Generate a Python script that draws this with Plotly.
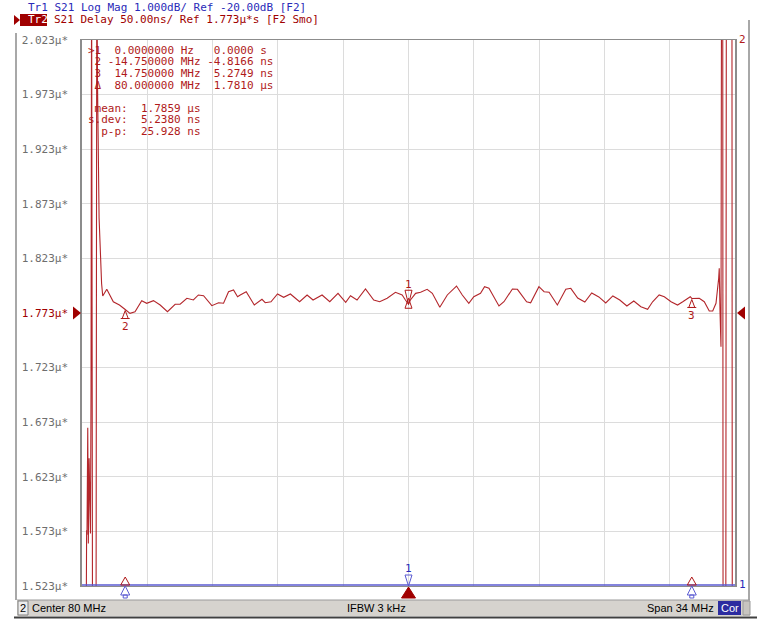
import plotly.graph_objects as go

# ---------------- data ----------------
# Tr2: S21 group delay (µs) vs frequency (MHz)
freq_mhz = [63.00, 63.20, 63.24, 63.26, 63.30, 63.33, 63.37, 63.41, 63.44, 63.47,
            63.50, 63.55, 63.73, 63.77, 63.81, 63.89, 63.96, 64.02,
            64.08, 64.29, 64.63, 64.95, 65.25, 65.50, 65.76, 66.11, 66.37, 66.72,
            67.07, 67.45, 67.85, 68.11, 68.46, 68.80, 69.06, 69.33, 69.76, 70.11,
            70.37, 70.63, 70.89, 71.10, 71.24, 71.55, 71.97, 72.37, 72.54, 72.84,
            73.18, 73.50, 73.85, 74.33, 74.72, 75.03, 75.50, 75.90, 76.33, 76.73,
            76.98, 77.32, 77.76, 78.19, 78.50, 78.89, 79.32, 79.67, 79.84, 80.00,
            80.10, 80.37, 80.63, 80.97, 81.24, 81.63, 82.02, 82.50, 82.80, 83.14,
            83.40, 83.75, 83.96, 84.19, 84.71, 84.97, 85.41, 85.67, 86.15, 86.36,
            86.79, 87.06, 87.32, 87.75, 88.19, 88.45, 88.81, 89.18, 89.54, 89.91,
            90.27, 90.64, 91.00, 91.37, 91.73, 92.10, 92.45, 92.71, 93.05, 93.32,
            93.67, 94.01, 94.28, 94.67, 94.75, 94.92, 95.14, 95.40, 95.66, 95.84,
            96.01, 96.15, 96.18, 96.22, 96.27, 96.30, 96.36, 96.38, 96.52, 96.55,
            96.84, 96.86, 96.93]
delay_us = [1.400, 1.400, 1.574, 1.570, 1.668, 1.562, 1.640, 1.614, 1.571, 1.705,
            2.100, 1.450, 1.450, 2.100, 1.980, 1.860, 1.820, 1.800,
            1.7886, 1.7947, 1.7833, 1.7803, 1.7762, 1.7727, 1.7742, 1.7843, 1.7819, 1.7843,
            1.7803, 1.7742, 1.7810, 1.7810, 1.7865, 1.7849, 1.7895, 1.7888, 1.7797, 1.7824,
            1.7819, 1.7925, 1.7941, 1.7879, 1.7895, 1.7925, 1.7803, 1.7855, 1.7824, 1.7833,
            1.7904, 1.7874, 1.7904, 1.7833, 1.7895, 1.7849, 1.7895, 1.7833, 1.7910, 1.7828,
            1.7888, 1.7849, 1.7950, 1.7849, 1.7833, 1.7865, 1.7920, 1.7895, 1.7849, 1.7810,
            1.7849, 1.7910, 1.7920, 1.7947, 1.7910, 1.7782, 1.7895, 1.7977, 1.7895, 1.7819,
            1.7879, 1.7910, 1.7971, 1.7956, 1.7794, 1.7833, 1.7950, 1.7947, 1.7833, 1.7824,
            1.7971, 1.7925, 1.7920, 1.7803, 1.7947, 1.7956, 1.7867, 1.7831, 1.7913, 1.7877,
            1.7822, 1.7886, 1.7849, 1.7794, 1.7840, 1.7788, 1.7764, 1.7833, 1.7895, 1.7879,
            1.7833, 1.7803, 1.7833, 1.7879, 1.7863, 1.7865, 1.7865, 1.7833, 1.7748, 1.7748,
            1.7819, 1.8048, 1.8139, 1.7742, 1.7421, 2.100, 2.100, 1.450, 1.450, 2.100,
            2.100, 1.450, 1.450]

# Tr1: S21 log magnitude (dB) -- off-scale low, pinned at the bottom of the grid
tr1_freq = [63.0, 80.0, 97.0]
tr1_logmag = [-25.0, -25.0, -25.0]

# markers
marker_ids = ["1", "2", "3"]
marker_freq = [80.0, 65.25, 94.75]
marker_delay = [1.7810, 1.7762, 1.7863]
active_marker = "1"

# channel settings
center_mhz = 80.0
span_mhz = 34.0
ref_us = 1.773
scale_us = 0.050
tr1_ref_db = -20.0
tr1_scale_db = 1.0
n_div = 10
ref_pos = 5

y_tick_vals = [1.523, 1.573, 1.623, 1.673, 1.723, 1.773, 1.823, 1.873, 1.923, 1.973, 2.023]
y_tick_text = ["1.523µ*", "1.573µ*", "1.623µ*", "1.673µ*", "1.723µ*", "1.773µ*",
               "1.823µ*", "1.873µ*", "1.923µ*", "1.973µ*", "2.023µ*"]

header_tr1 = "Tr1 S21 Log Mag 1.000dB/ Ref -20.00dB [F2]"
header_tr2 = "S21 Delay 50.00ns/ Ref 1.773µ*s [F2 Smo]"
marker_table = [">1  0.0000000 Hz   0.0000 s",
                " 2 -14.750000 MHz -4.8166 ns",
                " 3  14.750000 MHz  5.2749 ns",
                " Δ  80.000000 MHz  1.7810 µs"]
stats_table = [" mean:  1.7859 µs",
               "s.dev:  5.2380 ns",
               "  p-p:  25.928 ns"]
status_left = "Center 80 MHz"
status_mid = "IFBW 3 kHz"
status_right = "Span 34 MHz"

# ---------------- layout geometry ----------------
W, H = 757, 619
L, R, T, B = 82, 735, 40, 586
MONO = "DejaVu Sans Mono"
SANS = "Liberation Sans"
RED = "#b01a1a"
DRED = "#a00000"
BLUE = "#2a2ab8"
TBLUE = "#5a5ad2"

x_range = [center_mhz - span_mhz / 2, center_mhz + span_mhz / 2]
y_range = [ref_us - ref_pos * scale_us, ref_us + (n_div - ref_pos) * scale_us]
ux = (x_range[1] - x_range[0]) / (R - L)   # MHz per pixel
uy = (y_range[1] - y_range[0]) / (B - T)   # µs per pixel
uy2 = tr1_scale_db * n_div / (B - T)
# Tr1 scale; shifted by one pixel so the bottom-pinned trace is drawn inside the grid
y2_range = [tr1_ref_db - ref_pos * tr1_scale_db - uy2,
            tr1_ref_db + (n_div - ref_pos) * tr1_scale_db - uy2]


def nb(s):
    return s.replace(" ", "\u00a0")


def px(x):
    return (x - L) / (R - L)


def py(y):
    return (B - y) / (B - T)


def text_px(x, y, s, color, size=11, family=MONO, xanchor="left", yanchor="middle"):
    return dict(x=px(x), y=py(y), xref="paper", yref="paper", text=nb(s), showarrow=False,
                font=dict(family=family, size=size, color=color),
                xanchor=xanchor, yanchor=yanchor, borderpad=0)


def rect_px(x0, y0, x1, y1, fill, line=None, lw=1):
    return dict(type="rect", xref="paper", yref="paper", x0=px(x0), x1=px(x1),
                y0=py(y0), y1=py(y1), fillcolor=fill,
                line=dict(color=line or fill, width=lw if line else 0), layer="above")


def line_px(x0, y0, x1, y1, color, w=1):
    return dict(type="line", xref="paper", yref="paper", x0=px(x0), x1=px(x1),
                y0=py(y0), y1=py(y1), line=dict(color=color, width=w), layer="above")


def tri_data(f, yv, dx_px, dy_apex_px, dy_base_px, color, fill="rgba(0,0,0,0)"):
    # triangle at data point (f, yv); pixel offsets measured downwards
    ya = yv - dy_apex_px * uy
    yb = yv - dy_base_px * uy
    path = f"M {f} {ya} L {f - dx_px * ux} {yb} L {f + dx_px * ux} {yb} Z"
    return dict(type="path", xref="x", yref="y", path=path, fillcolor=fill,
                line=dict(color=color, width=1), layer="above")


def tri_bottom(f, dx_px, y_apex_px, y_base_px, color, fill="rgba(0,0,0,0)"):
    # triangle at frequency f, vertical position in screen pixels (not clipped vertically)
    path = (f"M {f} {py(y_apex_px)} L {f - dx_px * ux} {py(y_base_px)} "
            f"L {f + dx_px * ux} {py(y_base_px)} Z")
    return dict(type="path", xref="x", yref="paper", path=path, fillcolor=fill,
                line=dict(color=color, width=1), layer="above")


fig = go.Figure()

fig.add_trace(go.Scatter(x=tr1_freq, y=tr1_logmag, yaxis="y2", mode="lines",
                         line=dict(color=TBLUE, width=1.6),
                         hoverinfo="skip", showlegend=False))
fig.add_trace(go.Scatter(x=freq_mhz, y=delay_us, mode="lines",
                         line=dict(color="#b3262b", width=1.1),
                         hoverinfo="skip", showlegend=False))

shapes = []
annotations = []

# frame lines
shapes.append(line_px(16, 33, 16, 600, "#a8a8a8", 2))
shapes.append(line_px(749, 20, 749, 600, "#a8a8a8", 2))

# status bar
shapes.append(rect_px(17, 600, 750, 616, "#d6d3ce"))
shapes.append(line_px(17, 600, 750, 600, "#9a9a9a", 1))
shapes.append(line_px(14, 617.5, 757, 617.5, "#404040", 2))
shapes.append(rect_px(18, 601, 28, 615, "#ececec", "#808080", 1))
shapes.append(rect_px(718, 601, 741, 615, "#2c2ca0"))
shapes.append(rect_px(743, 601, 750, 615, "#c8c5c0", "#9a9a9a", 1))
annotations.append(text_px(23, 608, "2", "#000000", 11, SANS, "center"))
annotations.append(text_px(31, 608, status_left, "#000000", 11, SANS, "left"))
annotations.append(text_px(376, 608, status_mid, "#000000", 11, SANS, "center"))
annotations.append(text_px(715, 608, status_right, "#000000", 11, SANS, "right"))
annotations.append(text_px(729.5, 608, "Cor", "#ffffff", 11, SANS, "center"))

# header
annotations.append(text_px(27, 8, header_tr1, BLUE, 11, MONO))
shapes.append(rect_px(20, 14, 47, 26, DRED))
shapes.append(dict(type="path", xref="paper", yref="paper",
                   path=f"M {px(14)} {py(15)} L {px(20)} {py(20)} L {px(14)} {py(25)} Z",
                   fillcolor=DRED, line=dict(color=DRED, width=0), layer="above"))
annotations.append(text_px(27, 20, "Tr2", "#ffffff", 11, MONO))
annotations.append(text_px(53, 20, header_tr2, DRED, 11, MONO))

# marker table
for i, row in enumerate(marker_table):
    annotations.append(text_px(87, 50 + 11.67 * i, row, RED, 11, MONO))
for i, row in enumerate(stats_table):
    annotations.append(text_px(87, 108.3 + 11.67 * i, row, RED, 11, MONO))

# reference level indicators (Tr2)
ref_p = (ref_us - y_range[0]) / (y_range[1] - y_range[0])
hp = 6.5 / (B - T)
shapes.append(dict(type="path", xref="paper", yref="paper",
                   path=f"M {px(73)} {ref_p + hp} L {px(81)} {ref_p} L {px(73)} {ref_p - hp} Z",
                   fillcolor=DRED, line=dict(color=DRED, width=0), layer="above"))
shapes.append(dict(type="path", xref="paper", yref="paper",
                   path=f"M {px(745)} {ref_p + hp} L {px(737)} {ref_p} L {px(745)} {ref_p - hp} Z",
                   fillcolor=DRED, line=dict(color=DRED, width=0), layer="above"))

# trace labels at right edge
annotations.append(dict(x=1, y=1, xref="paper", yref="paper", text="2", showarrow=False,
                        xanchor="left", yanchor="middle", xshift=2, yshift=1,
                        font=dict(family=MONO, size=11, color=RED)))
annotations.append(dict(x=1, y=0, xref="paper", yref="paper", text="1", showarrow=False,
                        xanchor="left", yanchor="middle", xshift=2, yshift=2,
                        font=dict(family=MONO, size=11, color=BLUE)))

# Tr2 markers on the trace
for mid, f, v in zip(marker_ids, marker_freq, marker_delay):
    if mid == active_marker:
        shapes.append(tri_data(f, v, 3.5, 0, -14, RED))     # down triangle above point
        shapes.append(tri_data(f, v, 3.5, -6, 4, RED))      # inner up triangle
        annotations.append(dict(x=f, y=v, xref="x", yref="y", text=mid, showarrow=False,
                                yshift=20, font=dict(family=MONO, size=11, color=RED)))
    else:
        shapes.append(tri_data(f, v, 3.0, 1, 9, RED))
        shapes.append(dict(type="line", xref="x", yref="y", x0=f - 4.5 * ux, x1=f + 4.5 * ux,
                           y0=v - 9 * uy, y1=v - 9 * uy, line=dict(color=RED, width=1), layer="above"))
        annotations.append(dict(x=f, y=v, xref="x", yref="y", text=mid, showarrow=False,
                                yshift=-17, font=dict(family=MONO, size=11, color=RED)))

# Tr1 markers on the bottom-pinned trace
for mid, f in zip(marker_ids, marker_freq):
    if mid == active_marker:
        shapes.append(tri_bottom(f, 3.5, B, B - 11, TBLUE))
        annotations.append(dict(x=f, y=0, xref="x", yref="paper", text=mid, showarrow=False,
                                yanchor="middle", yshift=18,
                                font=dict(family=MONO, size=11, color=BLUE)))
        shapes.append(tri_bottom(f, 7, B + 1, B + 12, DRED, fill=DRED))
    else:
        shapes.append(tri_bottom(f, 4.5, B - 9, B - 1, RED))
        shapes.append(tri_bottom(f, 4.5, B, B + 9, TBLUE))
        shapes.append(dict(type="rect", xref="x", yref="paper", x0=f - 2 * ux, x1=f + 2 * ux,
                           y0=py(B + 9), y1=py(B + 12), line=dict(color=TBLUE, width=1),
                           layer="above"))

red_tick_text = [f'<span style="color:{DRED}">{t}</span>' if abs(v - ref_us) < 1e-9 else t
                 for v, t in zip(y_tick_vals, y_tick_text)]

fig.update_layout(
    width=W, height=H,
    margin=dict(l=L, r=W - R, t=T, b=H - B, pad=0),
    paper_bgcolor="white", plot_bgcolor="white",
    showlegend=False,
    xaxis=dict(range=x_range, tick0=x_range[0], dtick=span_mhz / n_div, showticklabels=False,
               showgrid=True, gridcolor="#dcdcdc", gridwidth=1, zeroline=False,
               showline=True, mirror=True, linecolor="#8c8c8c", linewidth=1, ticks="",
               layer="below traces"),
    yaxis=dict(range=y_range, tickvals=y_tick_vals, ticktext=red_tick_text,
               showgrid=True, gridcolor="#dcdcdc", gridwidth=1, zeroline=False,
               showline=True, mirror=True, linecolor="#8c8c8c", linewidth=1.5, ticks="",
               ticklabelstandoff=10, layer="below traces",
               tickfont=dict(family=MONO, size=11, color="#6e6e6e")),
    yaxis2=dict(range=y2_range, overlaying="y", visible=False),
    shapes=shapes,
    annotations=annotations,
)

fig.write_html("out.html", config={"displayModeBar": False},
               post_script="document.body.style.margin='0px';")
